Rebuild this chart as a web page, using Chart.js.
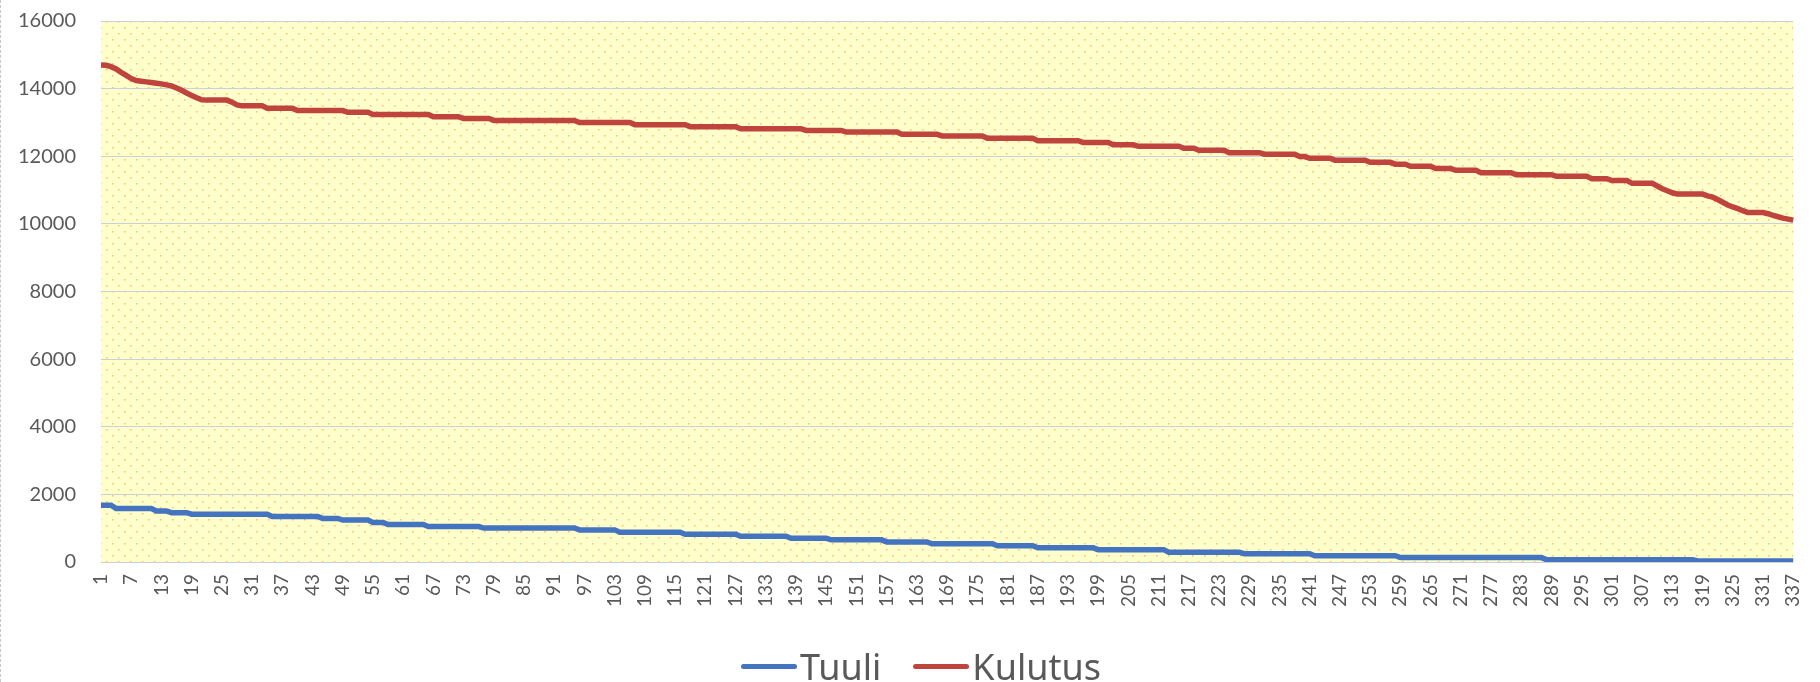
<!DOCTYPE html>
<html>
<head>
<meta charset="utf-8">
<script src="https://cdn.jsdelivr.net/npm/chart.js@4.4.1/dist/chart.umd.min.js"></script>
<style>
    body { margin: 0; background: #fff; }
    #marco { position: relative; width: 1819px; height: 682px; border-left: 1px dashed #c8c8c8; }
    #leyenda {
        position: absolute; left: 0; top: 644px; width: 1840px; height: 44px;
        display: flex; justify-content: center; align-items: center;
        font-family: "Noto Sans", sans-serif; font-size: 36px; color: #595959;
    }
    #leyenda .item { display: flex; align-items: center; margin: 0 16px; }
    #leyenda .linea { width: 56px; height: 5px; border-radius: 3px; margin-right: 3px; }
</style>
</head>
<body>
<div id="marco">
    <canvas id="kesto-chart" width="1819" height="682"></canvas>
    <div id="leyenda"></div>
</div>
<script>

// tunnit (1..337), arvot luettu kuvasta
var tunnit = [];
for (var i = 1; i <= 337; i++) {
    tunnit.push(String(i));
}

var tuuli = [
    1680, 1680, 1680, 1580, 1580, 1580, 1580, 1580, 1580, 1580,
    1580, 1510, 1510, 1510, 1460, 1460, 1460, 1460, 1415, 1415,
    1415, 1415, 1415, 1415, 1415, 1415, 1415, 1415, 1415, 1415,
    1415, 1415, 1415, 1415, 1345, 1345, 1345, 1345, 1345, 1345,
    1345, 1345, 1345, 1345, 1290, 1290, 1290, 1290, 1240, 1240,
    1240, 1240, 1240, 1240, 1170, 1170, 1170, 1110, 1110, 1110,
    1110, 1110, 1110, 1110, 1110, 1050, 1050, 1050, 1050, 1050,
    1050, 1050, 1050, 1050, 1050, 1050, 1005, 1005, 1005, 1005,
    1005, 1005, 1005, 1005, 1005, 1005, 1005, 1005, 1005, 1005,
    1005, 1005, 1005, 1005, 1005, 950, 950, 950, 950, 950,
    950, 950, 950, 880, 880, 880, 880, 880, 880, 880,
    880, 880, 880, 880, 880, 880, 820, 820, 820, 820,
    820, 820, 820, 820, 820, 820, 820, 760, 760, 760,
    760, 760, 760, 760, 760, 760, 760, 700, 700, 700,
    700, 700, 700, 700, 700, 655, 655, 655, 655, 655,
    655, 655, 655, 655, 655, 655, 595, 595, 595, 595,
    595, 595, 595, 595, 595, 540, 540, 540, 540, 540,
    540, 540, 540, 540, 540, 540, 540, 540, 480, 480,
    480, 480, 480, 480, 480, 480, 420, 420, 420, 420,
    420, 420, 420, 420, 420, 420, 420, 420, 365, 365,
    365, 365, 365, 365, 365, 365, 365, 365, 365, 365,
    365, 365, 290, 290, 290, 290, 290, 290, 290, 290,
    290, 290, 290, 290, 290, 290, 290, 245, 245, 245,
    245, 245, 245, 245, 245, 245, 245, 245, 245, 245,
    245, 185, 185, 185, 185, 185, 185, 185, 185, 185,
    185, 185, 185, 185, 185, 185, 185, 185, 130, 130,
    130, 130, 130, 130, 130, 130, 130, 130, 130, 130,
    130, 130, 130, 130, 130, 130, 130, 130, 130, 130,
    130, 130, 130, 130, 130, 130, 130, 70, 70, 70,
    70, 70, 70, 70, 70, 70, 70, 70, 70, 70,
    70, 70, 70, 70, 70, 70, 70, 70, 70, 70,
    70, 70, 70, 70, 70, 70, 70, 30, 30, 30,
    30, 30, 30, 30, 30, 30, 30, 30, 30, 30,
    30, 30, 30, 30, 30, 30, 30
];

var kulutus = [
    14700, 14690, 14650, 14580, 14480, 14390, 14300, 14240, 14220, 14200,
    14180, 14160, 14140, 14110, 14080, 14020, 13950, 13870, 13800, 13730,
    13670, 13660, 13660, 13660, 13660, 13660, 13600, 13520, 13490, 13490,
    13490, 13490, 13490, 13420, 13420, 13420, 13420, 13420, 13420, 13350,
    13350, 13350, 13350, 13350, 13350, 13350, 13350, 13350, 13350, 13300,
    13300, 13300, 13300, 13300, 13235, 13235, 13235, 13235, 13235, 13235,
    13235, 13235, 13235, 13235, 13235, 13235, 13165, 13165, 13165, 13165,
    13165, 13165, 13120, 13120, 13120, 13120, 13120, 13120, 13060, 13060,
    13060, 13060, 13060, 13060, 13060, 13060, 13060, 13060, 13060, 13060,
    13060, 13060, 13060, 13060, 13060, 13000, 13000, 13000, 13000, 13000,
    13000, 13000, 13000, 13000, 13000, 13000, 12935, 12935, 12935, 12935,
    12935, 12935, 12935, 12935, 12935, 12935, 12935, 12875, 12875, 12875,
    12875, 12875, 12875, 12875, 12875, 12875, 12875, 12810, 12810, 12810,
    12810, 12810, 12810, 12810, 12810, 12810, 12810, 12810, 12810, 12810,
    12765, 12765, 12765, 12765, 12765, 12765, 12765, 12765, 12715, 12715,
    12715, 12715, 12715, 12715, 12715, 12715, 12715, 12715, 12715, 12650,
    12650, 12650, 12650, 12650, 12650, 12650, 12650, 12600, 12600, 12600,
    12600, 12600, 12600, 12600, 12600, 12600, 12530, 12530, 12530, 12530,
    12530, 12530, 12530, 12530, 12530, 12530, 12460, 12460, 12460, 12460,
    12460, 12460, 12460, 12460, 12460, 12410, 12410, 12410, 12410, 12410,
    12410, 12340, 12340, 12340, 12340, 12340, 12295, 12295, 12295, 12295,
    12295, 12295, 12295, 12295, 12295, 12235, 12235, 12235, 12175, 12175,
    12175, 12175, 12175, 12175, 12105, 12105, 12105, 12105, 12105, 12105,
    12105, 12060, 12060, 12060, 12060, 12060, 12060, 12060, 11990, 11990,
    11940, 11940, 11940, 11940, 11940, 11885, 11885, 11885, 11885, 11885,
    11885, 11885, 11820, 11820, 11820, 11820, 11820, 11765, 11765, 11765,
    11705, 11705, 11705, 11705, 11705, 11635, 11635, 11635, 11635, 11585,
    11585, 11585, 11585, 11585, 11515, 11515, 11515, 11515, 11515, 11515,
    11515, 11455, 11455, 11455, 11455, 11455, 11455, 11455, 11455, 11405,
    11405, 11405, 11405, 11405, 11405, 11405, 11335, 11335, 11335, 11335,
    11280, 11280, 11280, 11280, 11200, 11200, 11200, 11200, 11200, 11120,
    11040, 10980, 10920, 10880, 10880, 10880, 10880, 10880, 10880, 10830,
    10790, 10720, 10640, 10560, 10500, 10450, 10390, 10335, 10335, 10335,
    10335, 10300, 10250, 10210, 10170, 10140, 10110
];

var yTicks = [0, 2000, 4000, 6000, 8000, 10000, 12000, 14000, 16000];

var fontti = 'Lato, "Noto Sans", sans-serif';

function crearPatron() {
    var c = document.createElement('canvas');
    c.width = 12;
    c.height = 12;
    var p = c.getContext('2d');
    p.fillStyle = '#FFFFCC';
    p.fillRect(0, 0, 12, 12);
    p.fillStyle = 'rgba(238, 172, 90, 0.75)';
    p.fillRect(3, 3, 1.5, 1.5);
    p.fillRect(9, 9, 1.5, 1.5);
    return p.createPattern(c, 'repeat');
}

// fondo amarillo punteado del area de datos
var fondoPlugin = {
    id: 'fondo',
    beforeDraw: function (chart) {
        var ctx = chart.ctx;
        var a = chart.chartArea;
        ctx.save();
        ctx.fillStyle = crearPatron();
        ctx.fillRect(a.left, a.top, a.right - a.left, a.bottom - a.top);
        ctx.restore();
    }
};

var kestoChart = new Chart(document.getElementById('kesto-chart').getContext('2d'), {
    type: 'line',
    data: {
        labels: tunnit,
        datasets: [
            {
                label: 'Tuuli',
                data: tuuli,
                borderColor: '#4473C0',
                borderWidth: 5.5,
                pointRadius: 0,
                fill: false,
                tension: 0
            },
            {
                label: 'Kulutus',
                data: kulutus,
                borderColor: '#C0443E',
                borderWidth: 5.5,
                pointRadius: 0,
                fill: false,
                tension: 0
            }
        ]
    },
    options: {
        responsive: false,
        animation: false,
        devicePixelRatio: 1,
        layout: {
            padding: { top: 21, right: 12, left: 0, bottom: 60 }
        },
        plugins: {
            legend: { display: false },
            tooltip: { enabled: false }
        },
        scales: {
            x: {
                grid: { display: false },
                border: { display: false },
                ticks: {
                    autoSkip: false,
                    maxRotation: 90,
                    minRotation: 90,
                    padding: 4,
                    color: '#595959',
                    font: { family: fontti, size: 19 },
                    callback: function (value, index) {
                        return index % 6 === 0 ? tunnit[index] : '';
                    }
                },
                afterFit: function (scale) {
                    scale.height = 60;
                }
            },
            y: {
                min: 0,
                max: 16000,
                afterBuildTicks: function (scale) {
                    scale.ticks = yTicks.map(function (v) { return { value: v }; });
                },
                ticks: {
                    padding: 25,
                    color: '#595959',
                    font: { family: fontti, size: 20 },
                    callback: function (value) {
                        return String(value);
                    }
                },
                grid: { color: '#C9D1D9', drawTicks: false },
                border: { display: false },
                afterFit: function (scale) {
                    scale.width = 100;
                    scale.paddingTop = 0;
                    scale.paddingBottom = 0;
                }
            }
        }
    },
    plugins: [fondoPlugin]
});

// leyenda en html, desde los datasets
kestoChart.data.datasets.forEach(function (ds) {
    var item = document.createElement('div');
    item.className = 'item';
    var linea = document.createElement('span');
    linea.className = 'linea';
    linea.style.background = ds.borderColor;
    var texto = document.createElement('span');
    texto.textContent = ds.label;
    item.appendChild(linea);
    item.appendChild(texto);
    document.getElementById('leyenda').appendChild(item);
});

</script>
</body>
</html>
